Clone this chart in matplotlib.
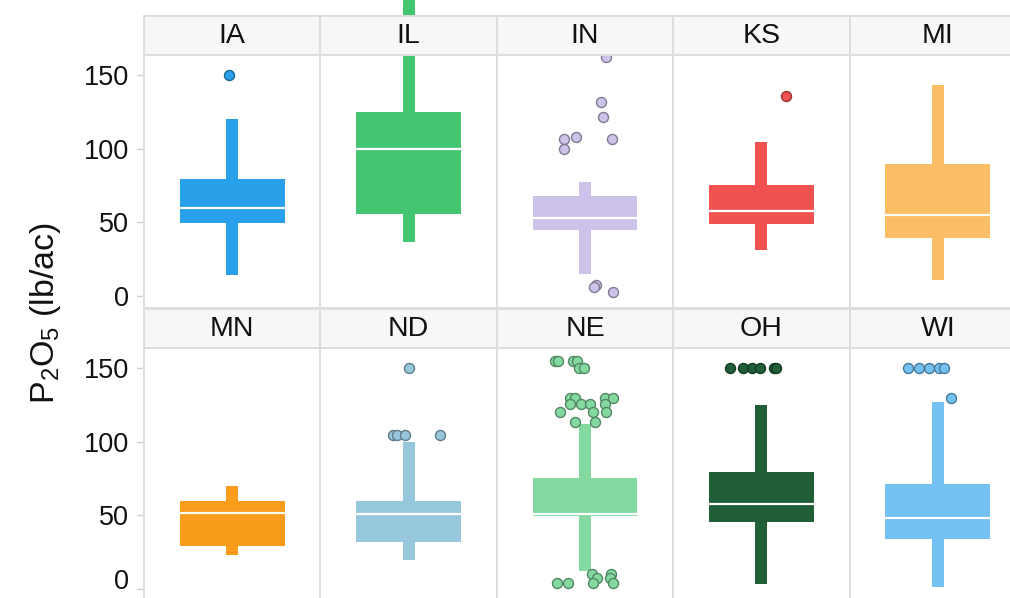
import matplotlib.pyplot as plt
import numpy as np
from matplotlib.colors import to_rgb

plt.rcParams['font.family'] = ['Liberation Sans', 'DejaVu Sans']
plt.rcParams['mathtext.fontset'] = 'custom'
plt.rcParams['mathtext.rm'] = 'Liberation Sans'

states = ['IA', 'IL', 'IN', 'KS', 'MI', 'MN', 'ND', 'NE', 'OH', 'WI']
q1 = [49.8, 55.9, 44.8, 49.1, 39.6, 28.9, 32.1, 49.5, 45.3, 33.7]
median = [60.0, 99.7, 53.2, 57.7, 54.8, 51.4, 51.2, 51.0, 58.0, 48.2]
q3 = [79.5, 125.0, 67.9, 75.4, 89.7, 60.0, 60.0, 75.1, 79.7, 71.5]
whisk_lo = [14.3, 36.9, 14.9, 31.5, 11.1, 22.8, 19.9, 12.0, 3.1, 1.1]
whisk_hi = [120.2, 250.0, 77.4, 104.6, 143.3, 70.2, 100.0, 112.3, 125.2, 127.2]
colors = ['#28a1ea', '#44c571', '#cdc3ea', '#f05252', '#fbbe67',
          '#f99b1b', '#97c7dc', '#84d9a1', '#1f5e37', '#73c1f2']

# outliers: values and horizontal jitter (fraction of panel width)
out_y = {
    'IA': [150],
    'IN': [162.6, 132, 121.8, 106.7, 108.2, 106.7, 99.9, 7.5, 5.9, 2.9],
    'KS': [136],
    'ND': [149.9, 104.8, 104.8, 104.8, 104.8],
    'NE': [155.1, 155.1, 155.1, 155.1, 149.9, 149.9,
           129.8, 129.8, 129.8, 129.8, 125.4, 125.4, 125.4, 125.4,
           120.2, 120.2, 120.2, 113.4, 113.4,
           10.2, 7.2, 10.2, 7.2, 3.8, 3.8, 3.8, 3.8],
    'OH': [150, 150, 150, 150, 150, 150],
    'WI': [150, 150, 150, 150, 150, 129.5],
}
out_dx = {
    'IA': [-0.02],
    'IN': [0.12, 0.09, 0.10, -0.12, -0.05, 0.155, -0.12, 0.063, 0.05, 0.16],
    'KS': [0.142],
    'ND': [0.0, -0.086, -0.067, -0.02, 0.18],
    'NE': [-0.17, -0.155, -0.066, -0.044, -0.036, -0.004,
           -0.085, -0.057, 0.114, 0.157, -0.085, -0.023, 0.028, 0.114,
           -0.142, 0.044, 0.119, -0.057, 0.057,
           0.042, 0.07, 0.146, 0.142, 0.047, 0.157, -0.161, -0.095],
    'OH': [-0.176, -0.104, -0.053, -0.01, 0.07, 0.085],
    'WI': [-0.169, -0.106, -0.049, 0.007, 0.034, 0.074],
}

W, H = 1010, 598
fig = plt.figure(figsize=(W / 100, H / 100), dpi=100)


def fbox(x0, y0, x1, y1):
    return [x0 / W, 1 - y1 / H, (x1 - x0) / W, (y1 - y0) / H]


col_left = 144
col_w = 176.4
rows = [(16, 55.3, 308), (308.7, 348.3, 601)]
grid = '#dddddd'
fs = 19.5

for i, st in enumerate(states):
    r, c = divmod(i, 5)
    x0 = col_left + c * col_w
    x1 = x0 + col_w
    s_top, p_top, p_bot = rows[r]

    ax = fig.add_axes(fbox(x0, p_top, x1, p_bot))
    ax.set_zorder(1)
    strip = fig.add_axes(fbox(x0, s_top, x1, p_top))
    strip.set_zorder(3)

    col = colors[i]
    dark = tuple(np.array(to_rgb(col)) * 0.62)

    ax.bar(0, whisk_hi[i] - q3[i], bottom=q3[i], width=0.068,
           color=col, clip_on=False, zorder=2)
    ax.bar(0, q1[i] - whisk_lo[i], bottom=whisk_lo[i], width=0.068,
           color=col, clip_on=False, zorder=2)
    ax.bar(0, q3[i] - q1[i], bottom=q1[i], width=0.595, color=col, zorder=2)
    ax.hlines(median[i], -0.2975, 0.2975, color='white', lw=1.6, zorder=3)

    if st in out_y:
        ax.scatter(out_dx[st], out_y[st], s=52, color=col, edgecolors=[dark],
                   linewidths=1.0, zorder=4)

    ax.set_xlim(-0.5, 0.5)
    ax.set_ylim(-8.2, 163.5)
    ax.set_xticks([])
    ax.set_yticks([0, 50, 100, 150])
    ax.tick_params(axis='y', length=5, width=1, color='#cccccc', pad=6,
                   labelsize=fs, labelcolor='#111111')
    if c > 0:
        ax.tick_params(axis='y', left=False, labelleft=False)
    elif r == 1:
        # keep the bottom "0" inside the picture, as the reference does
        ax.yaxis.get_major_ticks()[0].label1.set_verticalalignment('baseline')
    for sp in ax.spines.values():
        sp.set_color(grid)
        sp.set_linewidth(1.4)

    strip.set_facecolor('#f7f7f7')
    strip.set_xticks([])
    strip.set_yticks([])
    for sp in strip.spines.values():
        sp.set_color(grid)
        sp.set_linewidth(1.4)
    strip.text(0.5, 0.5, st, ha='center', va='center', fontsize=20.5,
               color='#111111', transform=strip.transAxes)

fig.text(46 / W, 1 - 313 / H, r'P$_\mathregular{2}$O$_\mathregular{5}$ (lb/ac)',
         rotation=90, ha='center', va='center', fontsize=24.5, color='#111111')

fig.savefig('out.png', dpi=100)
